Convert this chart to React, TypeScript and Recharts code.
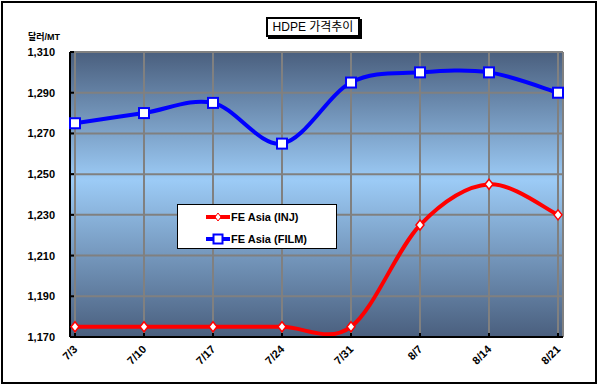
import React from 'react';
import { LineChart, Line, XAxis, YAxis, CartesianGrid } from 'recharts';

const weeks = ['7/3', '7/10', '7/17', '7/24', '7/31', '8/7', '8/14', '8/21'];
const injPrices = [1175, 1175, 1175, 1175, 1175, 1225, 1245, 1230];
const filmPrices = [1275, 1280, 1285, 1265, 1295, 1300, 1300, 1290];
const yTicks = [1170, 1190, 1210, 1230, 1250, 1270, 1290, 1310];
const seriesNames = ['FE Asia (INJ)', 'FE Asia (FILM)'];

const data = weeks.map((week, i) => ({ week, inj: injPrices[i], film: filmPrices[i] }));

const FONT = '"Liberation Sans", Arial, "Noto Sans CJK KR", sans-serif';

// excel style smoothed line (catmull-rom through every point)
const excelSmooth = (context: any) => {
  let xs: number[] = [];
  let ys: number[] = [];
  return {
    areaStart() {},
    areaEnd() {},
    lineStart() {
      xs = [];
      ys = [];
    },
    point(x: number, y: number) {
      xs.push(+x);
      ys.push(+y);
    },
    lineEnd() {
      const n = xs.length;
      if (!n) return;
      context.moveTo(xs[0], ys[0]);
      for (let i = 0; i < n - 1; i++) {
        const x0 = i > 0 ? xs[i - 1] : xs[i];
        const y0 = i > 0 ? ys[i - 1] : ys[i];
        const x3 = i + 2 < n ? xs[i + 2] : xs[i + 1];
        const y3 = i + 2 < n ? ys[i + 2] : ys[i + 1];
        context.bezierCurveTo(
          xs[i] + (xs[i + 1] - x0) / 6,
          ys[i] + (ys[i + 1] - y0) / 6,
          xs[i + 1] - (x3 - xs[i]) / 6,
          ys[i + 1] - (y3 - ys[i]) / 6,
          xs[i + 1],
          ys[i + 1]
        );
      }
    },
  };
};

const DiamondDot = (props: any) => {
  const { cx, cy, index } = props;
  return (
    <polygon
      key={`inj-${index}`}
      points={`${cx},${cy - 5} ${cx + 4},${cy} ${cx},${cy + 5} ${cx - 4},${cy}`}
      fill="#fff"
      stroke="#ff0000"
      strokeWidth={1.5}
    />
  );
};

const SquareDot = (props: any) => {
  const { cx, cy, index } = props;
  return (
    <rect key={`film-${index}`} x={cx - 5} y={cy - 5} width={10} height={10} fill="#fff" stroke="#0000ff" strokeWidth={2} />
  );
};

const XTick = (props: any) => {
  const { x, y, payload } = props;
  return (
    <g transform={`translate(${x},${y})`}>
      <line x1={0} y1={0} x2={0} y2={-4} stroke="#000" strokeWidth={2} />
      <text
        transform="translate(3,13) rotate(-45)"
        textAnchor="end"
        fontFamily={FONT}
        fontSize={11}
        fontWeight="bold"
        fill="#000"
      >
        {payload.value}
      </text>
    </g>
  );
};

const YTick = (props: any) => {
  const { x, y, payload } = props;
  return (
    <g transform={`translate(${x},${y})`}>
      <line x1={0} y1={0} x2={4} y2={0} stroke="#000" strokeWidth={2} />
      <text x={-15} y={4} textAnchor="end" fontFamily={FONT} fontSize={11} fontWeight="bold" fill="#000">
        {Number(payload.value).toLocaleString('en-US')}
      </text>
    </g>
  );
};

export default function App() {
  return (
    <div style={{ position: 'absolute', left: 0, top: 0, width: 599, height: 385, background: '#fff' }}>
      <div
        style={{
          position: 'absolute',
          left: 1,
          top: 1,
          width: 592,
          height: 379,
          border: '2px solid #000',
        }}
      />
      <LineChart width={599} height={385} data={data} margin={{ top: 52, right: 36, bottom: 0, left: 0 }}>
        <defs>
          <linearGradient id="plotBg" x1="0" y1="0" x2="0" y2="1">
            <stop offset="0%" stopColor="#4a5f7e" />
            <stop offset="45%" stopColor="#9ccbf6" />
            <stop offset="100%" stopColor="#4a5f7e" />
          </linearGradient>
        </defs>
        <CartesianGrid fill="url(#plotBg)" stroke="#808080" strokeWidth={2} />
        <XAxis
          dataKey="week"
          height={48}
          padding={{ left: 5, right: 5 }}
          interval={0}
          axisLine={{ stroke: '#000', strokeWidth: 2 }}
          tickLine={false}
          tickSize={0}
          tickMargin={0}
          tick={<XTick />}
        />
        <YAxis
          width={70}
          domain={[1170, 1310]}
          ticks={yTicks}
          interval={0}
          axisLine={{ stroke: '#000', strokeWidth: 2 }}
          tickLine={false}
          tickSize={0}
          tickMargin={0}
          tick={<YTick />}
        />
        <YAxis
          yAxisId="frame"
          orientation="right"
          width={0}
          domain={[0, 1]}
          tick={false}
          tickLine={false}
          axisLine={{ stroke: '#808080', strokeWidth: 2 }}
        />
        <Line
          dataKey="inj"
          name={seriesNames[0]}
          type={excelSmooth as any}
          stroke="#ff0000"
          strokeWidth={4}
          dot={DiamondDot}
          isAnimationActive={false}
        />
        <Line
          dataKey="film"
          name={seriesNames[1]}
          type={excelSmooth as any}
          stroke="#0000ff"
          strokeWidth={4}
          dot={SquareDot}
          isAnimationActive={false}
        />
      </LineChart>

      <div
        style={{
          position: 'absolute',
          left: 266,
          top: 17,
          width: 90,
          height: 16,
          border: '2px solid #000',
          boxShadow: '2px 2px 0 #000',
          background: '#fff',
          fontFamily: FONT,
          fontSize: 12,
          lineHeight: '16px',
          textAlign: 'center',
          color: '#000',
        }}
      >
        HDPE 가격추이
      </div>

      <div
        style={{
          position: 'absolute',
          left: 28,
          top: 31,
          fontFamily: FONT,
          fontSize: 9,
          fontWeight: 'bold',
          lineHeight: '12px',
          color: '#000',
        }}
      >
        달러/MT
      </div>

      <div
        style={{
          position: 'absolute',
          left: 177,
          top: 204,
          width: 158,
          height: 43,
          border: '1.5px solid #000',
          background: '#fff',
          fontFamily: FONT,
          fontSize: 11,
          fontWeight: 'bold',
          color: '#000',
        }}
      >
        {seriesNames.map((name, i) => (
          <div key={name} style={{ position: 'absolute', left: 28, top: 4 + i * 22, height: 15, display: 'flex', alignItems: 'center' }}>
            <svg width={24} height={12} style={{ marginRight: 1 }}>
              <line x1={0} y1={6} x2={24} y2={6} stroke={i === 0 ? '#ff0000' : '#0000ff'} strokeWidth={4} />
              {i === 0 ? (
                <polygon points="12,2 15,6 12,10 9,6" fill="#fff" stroke="#ff0000" strokeWidth={1} />
              ) : (
                <rect x={7.5} y={1.5} width={9} height={9} fill="#fff" stroke="#0000ff" strokeWidth={2} />
              )}
            </svg>
            <span>{name}</span>
          </div>
        ))}
      </div>
    </div>
  );
}
